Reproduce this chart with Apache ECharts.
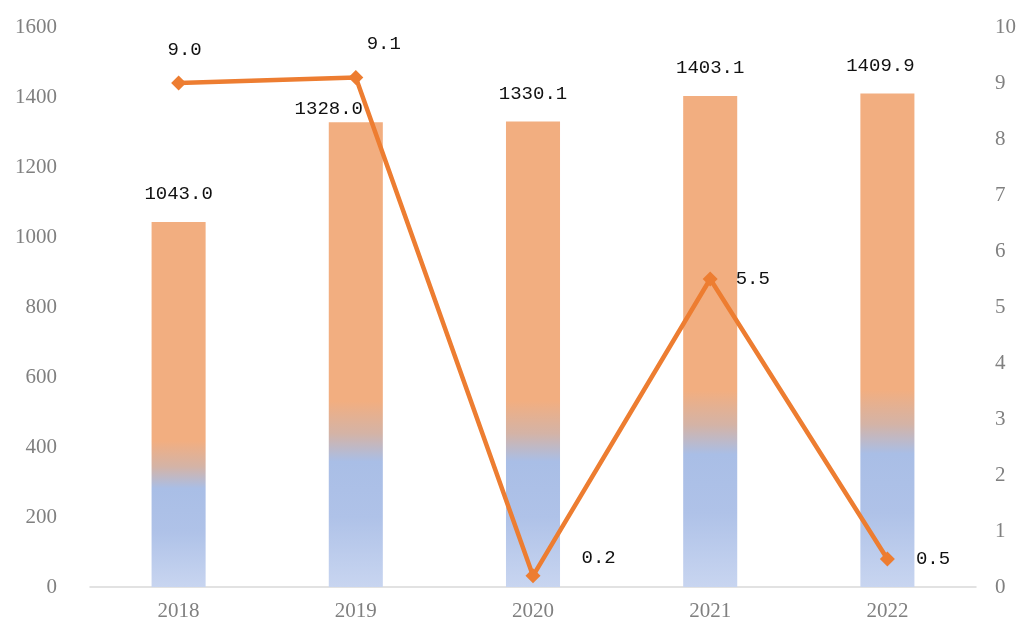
<!DOCTYPE html>
<html>
<head>
<meta charset="utf-8">
<script src="https://cdn.jsdelivr.net/npm/echarts@6/dist/echarts.min.js"></script>
<style>html,body{margin:0;padding:0;background:#fff}#c{width:1020px;height:623px}</style>
</head>
<body>
<div id="c"></div>
<script>
const categories = ['2018', '2019', '2020', '2021', '2022'];
const barValues = [1043.0, 1328.0, 1330.1, 1403.1, 1409.9];
const lineValues = [9.0, 9.1, 0.2, 5.5, 0.5];
const leftTicks = [0, 200, 400, 600, 800, 1000, 1200, 1400, 1600];
const rightTicks = [0, 1, 2, 3, 4, 5, 6, 7, 8, 9, 10];

const chart = echarts.init(document.getElementById('c'));
const axisFont = { color: '#808080', fontFamily: 'Liberation Serif', fontSize: 21 };
const labelFont = { color: '#111111', fontFamily: 'Liberation Mono', fontSize: 19 };

const barGrad = new echarts.graphic.LinearGradient(0, 0, 0, 1, [
  { offset: 0, color: '#F2AE80' },
  { offset: 0.6, color: '#F2AE80' },
  { offset: 0.67, color: '#D4B3A6' },
  { offset: 0.73, color: '#A9BEE6' },
  { offset: 0.85, color: '#AFC2E8' },
  { offset: 1, color: '#C8D5F0' }
]);

const barLabelCfg = [
  { offset: [0, 0] },
  { offset: [-27, 14] },
  { offset: [0, 0] },
  { offset: [0, 0] },
  { offset: [-7, 0] }
];
const lineLabelCfg = [
  { position: 'top', offset: [6, -2] },
  { position: 'top', offset: [28, -2] },
  { position: 'right', offset: [27, -18] },
  { position: 'right', offset: [4, 0] },
  { position: 'right', offset: [7, 0] }
];

chart.setOption({
  animation: false,
  grid: { left: 90, right: 44, top: 27, bottom: 36 },
  xAxis: {
    type: 'category',
    data: categories,
    axisLine: { lineStyle: { color: '#d9d9d9', width: 1.5 } },
    axisTick: { show: false },
    axisLabel: Object.assign({ margin: 14 }, axisFont)
  },
  yAxis: [
    {
      type: 'value', min: leftTicks[0], max: leftTicks[leftTicks.length - 1], interval: 200,
      splitLine: { show: false }, axisLine: { show: false }, axisTick: { show: false },
      axisLabel: Object.assign({ margin: 33, formatter: v => String(v) }, axisFont)
    },
    {
      type: 'value', min: rightTicks[0], max: rightTicks[rightTicks.length - 1], interval: 1,
      splitLine: { show: false }, axisLine: { show: false }, axisTick: { show: false },
      axisLabel: Object.assign({ margin: 19, formatter: v => String(v) }, axisFont)
    }
  ],
  series: [
    {
      type: 'bar',
      yAxisIndex: 0,
      barWidth: '30.5%',
      data: barValues.map((v, i) => ({
        value: v,
        label: { offset: barLabelCfg[i].offset }
      })),
      itemStyle: { color: barGrad },
      label: Object.assign({
        show: true, position: 'top', distance: 18,
        formatter: p => p.value.toFixed(1)
      }, labelFont)
    },
    {
      type: 'line',
      yAxisIndex: 1,
      data: lineValues.map((v, i) => ({
        value: v,
        label: { position: lineLabelCfg[i].position, offset: lineLabelCfg[i].offset }
      })),
      lineStyle: { color: '#ED7D31', width: 4.5 },
      itemStyle: { color: '#ED7D31' },
      symbol: 'diamond',
      symbolSize: 15,
      label: Object.assign({
        show: true, distance: 14,
        formatter: p => p.value.toFixed(1)
      }, labelFont)
    }
  ]
});
</script>
</body>
</html>
